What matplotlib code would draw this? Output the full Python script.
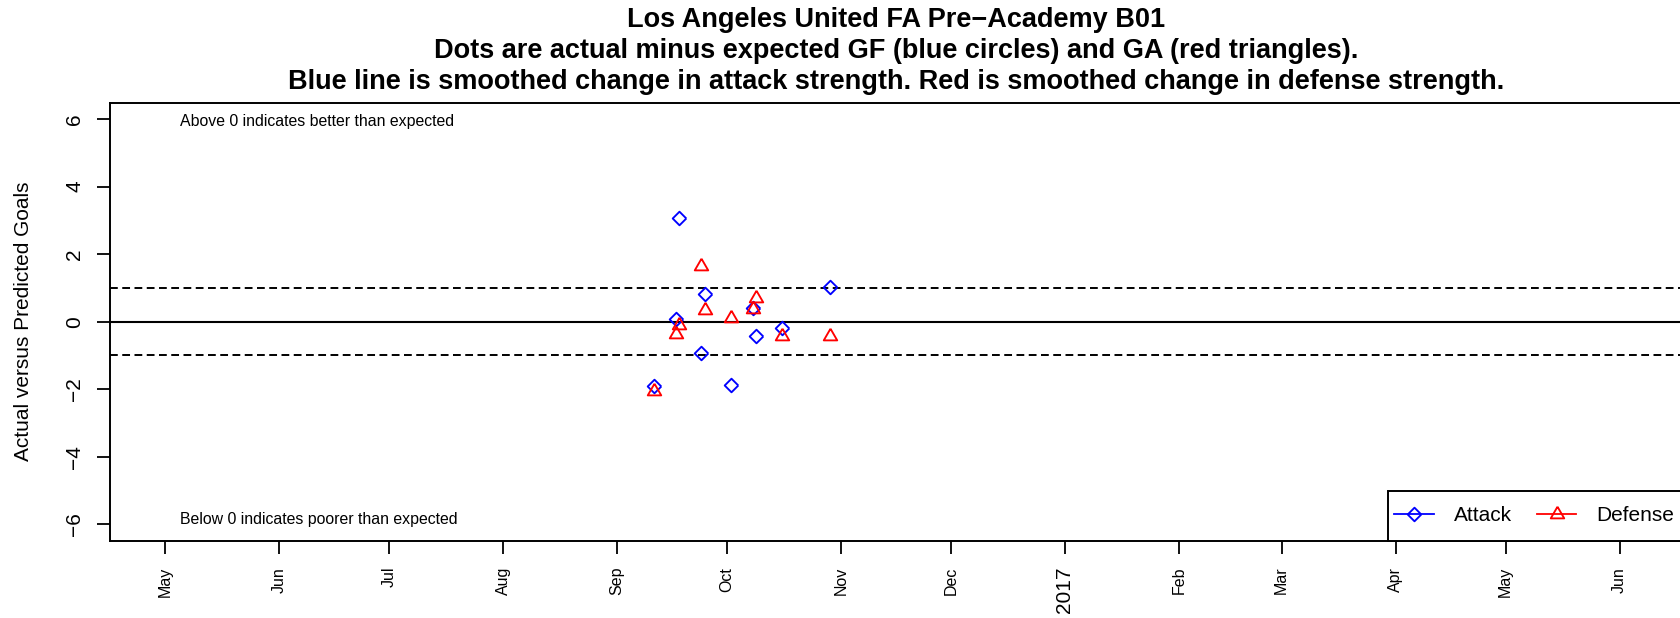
import matplotlib.pyplot as plt
from matplotlib.lines import Line2D
from matplotlib.patches import Rectangle
from datetime import datetime

plt.rcParams['font.family'] = ['Liberation Sans', 'DejaVu Sans']

# games: actual minus predicted goals for (attack) and against (defense)
game_dates = ['2016-09-11', '2016-09-17', '2016-09-18', '2016-09-24', '2016-09-25',
              '2016-10-02', '2016-10-08', '2016-10-09', '2016-10-16', '2016-10-29']
attack = [-1.91, 0.07, 3.06, -0.92, 0.83, -1.87, 0.41, -0.41, -0.18, 1.03]
defense = [-2.04, -0.37, -0.09, 1.66, 0.36, 0.12, 0.38, 0.69, -0.42, -0.41]

tick_dates = ['2016-05-01', '2016-06-01', '2016-07-01', '2016-08-01', '2016-09-01',
              '2016-10-01', '2016-11-01', '2016-12-01', '2017-01-01', '2017-02-01',
              '2017-03-01', '2017-04-01', '2017-05-01', '2017-06-01']
tick_labels = ['May', 'Jun', 'Jul', 'Aug', 'Sep', 'Oct', 'Nov', 'Dec', '2017',
               'Feb', 'Mar', 'Apr', 'May', 'Jun']
y_ticks = [-6, -4, -2, 0, 2, 4, 6]

title_lines = ['Los Angeles United FA Pre\u2212Academy B01',
               'Dots are actual minus expected GF (blue circles) and GA (red triangles).',
               'Blue line is smoothed change in attack strength. Red is smoothed change in defense strength.']

to_dt = lambda s: datetime.strptime(s, '%Y-%m-%d')
gd = [to_dt(d) for d in game_dates]

# R style markers (pch 5 and pch 2)
diamond = [(1, 0), (0, 1), (-1, 0), (0, -1), (1, 0)]
triangle = [(0, 1.555), (1.347, -0.778), (-1.347, -0.778), (0, 1.555)]

fig = plt.figure(figsize=(16.8, 6.18), dpi=100)
ax = fig.add_axes([110/1680, (618-540.7)/618, (1682-110)/1680, 438/618])

ax.axhline(0, color='black', lw=1.5)
ax.axhline(1, color='black', lw=1.4, ls=(0, (4, 2.3)))
ax.axhline(-1, color='black', lw=1.4, ls=(0, (4, 2.3)))

ax.plot(gd, attack, ls='none', marker=diamond, ms=9.8, mfc='none', mec='blue', mew=1.35)
ax.plot(gd, defense, ls='none', marker=triangle, ms=11.2, mfc='none', mec='red', mew=1.35)

ax.set_xlim(to_dt('2016-04-16'), to_dt('2017-06-18'))
ax.set_ylim(-6.48, 6.48)

ax.set_xticks([to_dt(d) for d in tick_dates])
ax.set_xticklabels(tick_labels, rotation=90, fontsize=11.5)
for lab in ax.get_xticklabels():
    if lab.get_text() == '2017':
        lab.set_fontsize(15)
ax.set_yticks(y_ticks)
ax.set_yticklabels([str(v).replace('-', '\u2212') for v in y_ticks], rotation=90,
                   va='center', fontsize=15)
ax.tick_params(axis='both', direction='out', length=9.4, width=1.3)
ax.tick_params(axis='x', pad=9.4)
ax.tick_params(axis='y', pad=9)
for s in ax.spines.values():
    s.set_linewidth(1.4)

ax.text(to_dt('2016-05-05'), 5.93, 'Above 0 indicates better than expected',
        fontsize=11.4, va='center', ha='left')
ax.text(to_dt('2016-05-05'), -5.85, 'Below 0 indicates poorer than expected',
        fontsize=11.4, va='center', ha='left')

fig.text(23.5/1680, 1 - 321.7/618, 'Actual versus Predicted Goals', rotation=90,
         fontsize=15, ha='center', va='center')

for i, line in enumerate(title_lines):
    fig.text(896/1680, 1 - (27 + 31*i)/618, line, fontsize=19.5, fontweight='bold',
             ha='center', va='baseline')

# legend box drawn like R's: flush with the bottom right corner
box_x0 = (1388 - 110) / 1572
box_h = (540.7 - 491) / 438
ax.add_patch(Rectangle((box_x0, 0), 1.2, box_h, transform=ax.transAxes,
                       facecolor='white', edgecolor='black', lw=1.4, zorder=4.5,
                       clip_on=False))
handles = [Line2D([], [], color='blue', marker=diamond, ms=9.8, mfc='none', mew=1.35, lw=1.3),
           Line2D([], [], color='red', marker=triangle, ms=11.2, mfc='none', mew=1.35, lw=1.3)]
leg = ax.legend(handles, ['Attack', 'Defense'], loc='center left',
                bbox_to_anchor=(box_x0, box_h / 2), borderaxespad=0, ncol=2, fontsize=15,
                handlelength=1.9, handletextpad=0.95, columnspacing=1.2, borderpad=0.3,
                frameon=False)

fig.savefig('out.png', dpi=100)
